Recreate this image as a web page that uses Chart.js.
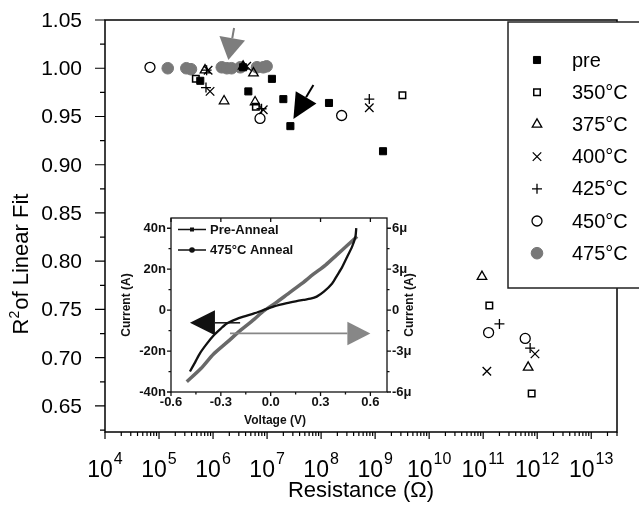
<!DOCTYPE html>
<html>
<head>
<meta charset="utf-8">
<script src="https://cdn.jsdelivr.net/npm/chart.js@4.4.0/dist/chart.umd.min.js"></script>
<style>
  html, body { margin: 0; padding: 0; background: #fff; }
  #wrap { position: relative; width: 639px; height: 508px; }
  #main { position: absolute; left: 0; top: 0; }
  #inset { position: absolute; left: 118px; top: 205px; }
</style>
</head>
<body>
<div id="wrap">
  <canvas id="main" width="639" height="508"></canvas>
  <canvas id="inset" width="300" height="226"></canvas>
</div>
<script>
// ---- main plot data: resistance (ohm) vs R^2 of linear fit ----
var seriesNames = ['pre', '350°C', '375°C', '400°C', '425°C', '450°C', '475°C'];

var preR   = [5.8e5, 3.6e6, 4.5e6, 1.23e7, 2.0e7, 2.7e7, 1.4e8, 1.4e9];
var preFit = [0.987, 1.001, 0.976, 0.989, 0.968, 0.940, 0.964, 0.914];

var r350   = [4.8e5, 6.2e6, 3.2e9, 1.3e11, 7.9e11];
var fit350 = [0.989, 0.960, 0.972, 0.754, 0.663];

var r375   = [7.1e5, 1.6e6, 3.6e6, 5.6e6, 6.0e6, 9.5e10, 6.8e11];
var fit375 = [0.998, 0.966, 1.002, 0.995, 0.965, 0.784, 0.690];

var r400   = [8.1e5, 8.8e5, 4.2e6, 8.5e6, 7.8e8, 1.17e11, 9.1e11];
var fit400 = [0.998, 0.976, 1.002, 0.957, 0.959, 0.686, 0.704];

var r425   = [7.4e5, 7.6e5, 7.9e6, 7.8e8, 2.0e11, 7.4e11];
var fit425 = [0.980, 0.998, 0.958, 0.968, 0.735, 0.710];

var r450   = [6.8e4, 7.4e6, 2.4e8, 1.26e11, 6.0e11];
var fit450 = [1.001, 0.948, 0.951, 0.726, 0.720];

var r475   = [1.45e5, 3.2e5, 3.9e5, 1.45e6, 1.8e6, 2.2e6, 3.2e6, 6.5e6, 8.5e6, 9.8e6];
var fit475 = [1.000, 1.000, 0.999, 1.001, 1.000, 1.000, 1.001, 1.001, 1.001, 1.002];

var xDecades = [4, 5, 6, 7, 8, 9, 10, 11, 12, 13];
var yTicks = [0.65, 0.70, 0.75, 0.80, 0.85, 0.90, 0.95, 1.00, 1.05];

// arrows in the main plot (data coords): [tailR, tailFit, tipR, tipFit]
var grayArrow  = [2.45e6, 1.0417, 1.92e6, 1.0086];
var blackArrow = [7.2e7, 0.9827, 3.07e7, 0.9475];

// ---- inset data: I-V curves ----
var vPre = [-0.486, -0.455, -0.425, -0.385, -0.345, -0.30, -0.264, -0.21, -0.164, -0.10, -0.044, 0.02, 0.097, 0.15, 0.197, 0.24, 0.277, 0.32, 0.37, 0.40, 0.43, 0.46, 0.49, 0.51, 0.515];
var iPre = [-30, -25.5, -21, -16.5, -12.5, -9, -6.5, -4.5, -3.2, -1.6, 0, 1.8, 3.4, 4.3, 5.0, 5.6, 6.6, 9.0, 13, 17, 21, 26, 31, 36, 40]; // nA

var v475 = [-0.505, -0.42, -0.345, -0.26, -0.184, -0.10, -0.044, 0.03, 0.097, 0.18, 0.257, 0.33, 0.398, 0.46, 0.52];
var i475 = [-5.25, -4.28, -3.23, -2.33, -1.5, -0.68, -0.08, 0.53, 1.13, 1.88, 2.63, 3.3, 4.05, 4.73, 5.4]; // uA

var insetXTicks = [-0.6, -0.3, 0, 0.3, 0.6];
var insetLeftTicks = [-40, -20, 0, 20, 40];
var insetRightTicks = [-6, -3, 0, 3, 6];

// inset arrows: [tailV, tailI(nA), tipV, tipI(nA)]
var insetBlackArrow = [-0.184, -6.2, -0.486, -6.2];
var insetGrayArrow  = [-0.245, -11.4, 0.6, -11.4];

var FONT = "'Liberation Sans', Arial, sans-serif";
var GRAY = 'rgb(120,120,120)';

function pts(xs, ys) {
  return xs.map(function(x, i) { return {x: x, y: ys[i]}; });
}

var seriesR   = [preR, r350, r375, r400, r425, r450, r475];
var seriesFit = [preFit, fit350, fit375, fit400, fit425, fit450, fit475];
var markerStyles = [
  {style: 'rect',     r: 5,   fill: '#000',  stroke: '#000', lw: 1},
  {style: 'rect',     r: 4.6, fill: 'rgba(0,0,0,0)', stroke: '#000', lw: 1.5},
  {style: 'triangle', r: 5.5, fill: 'rgba(0,0,0,0)', stroke: '#000', lw: 1.3},
  {style: 'crossRot', r: 6,   fill: 'rgba(0,0,0,0)', stroke: '#000', lw: 1.3},
  {style: 'cross',    r: 5,   fill: 'rgba(0,0,0,0)', stroke: '#000', lw: 1.3},
  {style: 'circle',   r: 5,   fill: 'rgba(0,0,0,0)', stroke: '#000', lw: 1.3},
  {style: 'circle',   r: 5.8, fill: GRAY,    stroke: GRAY,   lw: 1}
];

function drawMarker(ctx, st, x, y) {
  var r = st.r;
  ctx.save();
  ctx.fillStyle = st.fill; ctx.strokeStyle = st.stroke; ctx.lineWidth = st.lw;
  ctx.beginPath();
  if (st.style === 'rect') {
    var s = r * Math.SQRT1_2;
    ctx.rect(x - s, y - s, 2 * s, 2 * s);
  } else if (st.style === 'triangle') {
    ctx.moveTo(x, y - r);
    ctx.lineTo(x + 0.866 * r, y + 0.5 * r);
    ctx.lineTo(x - 0.866 * r, y + 0.5 * r);
    ctx.closePath();
  } else if (st.style === 'crossRot') {
    var c = r * Math.SQRT1_2;
    ctx.moveTo(x - c, y - c); ctx.lineTo(x + c, y + c);
    ctx.moveTo(x - c, y + c); ctx.lineTo(x + c, y - c);
  } else if (st.style === 'cross') {
    ctx.moveTo(x - r, y); ctx.lineTo(x + r, y);
    ctx.moveTo(x, y - r); ctx.lineTo(x, y + r);
  } else {
    ctx.arc(x, y, r, 0, Math.PI * 2);
  }
  if (st.style !== 'cross' && st.style !== 'crossRot') ctx.fill();
  ctx.stroke();
  ctx.restore();
}

function arrow(ctx, x0, y0, x1, y1, headLen, halfW, color, lw) {
  var dx = x1 - x0, dy = y1 - y0, L = Math.sqrt(dx * dx + dy * dy);
  var ux = dx / L, uy = dy / L;
  var bx = x1 - ux * headLen, by = y1 - uy * headLen;
  ctx.save();
  ctx.strokeStyle = color; ctx.fillStyle = color; ctx.lineWidth = lw;
  ctx.beginPath(); ctx.moveTo(x0, y0); ctx.lineTo(bx, by); ctx.stroke();
  ctx.beginPath();
  ctx.moveTo(x1, y1);
  ctx.lineTo(bx - uy * halfW, by + ux * halfW);
  ctx.lineTo(bx + uy * halfW, by - ux * halfW);
  ctx.closePath(); ctx.fill();
  ctx.restore();
}

var mainDecor = {
  id: 'mainDecor',
  afterDraw: function(chart) {
    var ctx = chart.ctx, a = chart.chartArea;
    var xs = chart.scales.x, ys = chart.scales.y;
    var i, x, y;
    ctx.save();
    ctx.strokeStyle = '#000';
    ctx.lineWidth = 1.5;
    ctx.strokeRect(a.left, a.top, a.right - a.left, a.bottom - a.top);

    // y ticks
    ctx.lineWidth = 1.2;
    ctx.beginPath();
    for (i = 0; i < yTicks.length; i++) {
      y = ys.getPixelForValue(yTicks[i]);
      ctx.moveTo(a.left - 10, y); ctx.lineTo(a.left, y);
      var mv = yTicks[i] - 0.025;
      if (mv >= ys.min) {
        var my = ys.getPixelForValue(mv);
        ctx.moveTo(a.left - 5, my); ctx.lineTo(a.left, my);
      }
    }
    // x ticks (log, with minors)
    for (i = 0; i < xDecades.length; i++) {
      var base = Math.pow(10, xDecades[i]);
      x = xs.getPixelForValue(base);
      ctx.moveTo(x, a.bottom); ctx.lineTo(x, a.bottom + 7);
      for (var m = 2; m <= 9; m++) {
        if (m * base > xs.max) break;
        var mx = xs.getPixelForValue(m * base);
        ctx.moveTo(mx, a.bottom); ctx.lineTo(mx, a.bottom + 4);
      }
    }
    ctx.stroke();

    // y labels
    ctx.fillStyle = '#000';
    ctx.font = '21px ' + FONT;
    ctx.textAlign = 'right';
    ctx.textBaseline = 'middle';
    yTicks.forEach(function(v) {
      ctx.fillText(v.toFixed(2), 82, ys.getPixelForValue(v) + 1);
    });

    // x labels 10^n
    ctx.textAlign = 'left';
    ctx.textBaseline = 'alphabetic';
    xDecades.forEach(function(d) {
      var px = xs.getPixelForValue(Math.pow(10, d));
      ctx.font = '23px ' + FONT;
      var w1 = ctx.measureText('10').width;
      ctx.font = '16px ' + FONT;
      var w2 = ctx.measureText(String(d)).width;
      var left = px - (w1 + w2 + 1) / 2;
      ctx.font = '23px ' + FONT;
      ctx.fillText('10', left, 477);
      ctx.font = '16px ' + FONT;
      ctx.fillText(String(d), left + w1 + 1, 464);
    });

    // x title
    ctx.font = '22px ' + FONT;
    ctx.textAlign = 'center';
    ctx.textBaseline = 'middle';
    ctx.fillText('Resistance (\u03A9)', (a.left + a.right) / 2, 491);

    // y title: R^2 of Linear Fit
    ctx.save();
    ctx.translate(22, 264);
    ctx.rotate(-Math.PI / 2);
    ctx.textAlign = 'left';
    ctx.textBaseline = 'middle';
    ctx.font = '22px ' + FONT;
    var wR = ctx.measureText('R').width;
    var wRest = ctx.measureText('of Linear Fit').width;
    ctx.font = '14px ' + FONT;
    var wS = ctx.measureText('2').width;
    var tot = wR + wS + 1 + wRest;
    var sx = -tot / 2;
    ctx.font = '22px ' + FONT;
    ctx.fillText('R', sx, 0);
    ctx.font = '14px ' + FONT;
    ctx.fillText('2', sx + wR, -7);
    ctx.font = '22px ' + FONT;
    ctx.fillText('of Linear Fit', sx + wR + wS + 1, 0);
    ctx.restore();

    // arrows
    arrow(ctx, xs.getPixelForValue(grayArrow[0]), ys.getPixelForValue(grayArrow[1]),
          xs.getPixelForValue(grayArrow[2]), ys.getPixelForValue(grayArrow[3]), 22, 13, 'rgb(125,125,125)', 2);
    arrow(ctx, xs.getPixelForValue(blackArrow[0]), ys.getPixelForValue(blackArrow[1]),
          xs.getPixelForValue(blackArrow[2]), ys.getPixelForValue(blackArrow[3]), 25, 12, '#000', 2);

    // legend box
    ctx.fillStyle = '#fff';
    ctx.fillRect(508, 22, 140, 266);
    ctx.strokeStyle = '#222';
    ctx.lineWidth = 1.5;
    ctx.strokeRect(508, 22, 140, 266);
    ctx.font = '20px ' + FONT;
    ctx.textAlign = 'left';
    ctx.textBaseline = 'middle';
    chart.data.datasets.forEach(function(ds, k) {
      var ly = 60 + k * 32.2;
      drawMarker(ctx, markerStyles[k], 537, ly);
      ctx.fillStyle = '#000';
      ctx.fillText(ds.label, 572, ly + 1);
    });
    ctx.restore();
  }
};

new Chart(document.getElementById('main'), {
  type: 'scatter',
  data: {
    datasets: seriesNames.map(function(name, k) {
      var st = markerStyles[k];
      return {
        label: name,
        data: pts(seriesR[k], seriesFit[k]),
        pointStyle: st.style,
        pointRadius: st.r,
        pointHoverRadius: st.r,
        pointBackgroundColor: st.fill,
        pointBorderColor: st.stroke,
        pointBorderWidth: st.lw
      };
    })
  },
  options: {
    responsive: false,
    animation: false,
    devicePixelRatio: 1,
    layout: { autoPadding: false, padding: { top: 20, right: 22, left: 0, bottom: 0 } },
    plugins: { legend: { display: false }, tooltip: { enabled: false } },
    scales: {
      x: {
        type: 'logarithmic', min: 1e4, max: 3e13,
        ticks: { display: false }, grid: { display: false }, border: { display: false },
        afterFit: function(s) { s.height = 76; }
      },
      y: {
        type: 'linear', min: 0.623, max: 1.05,
        ticks: { display: false }, grid: { display: false }, border: { display: false },
        afterFit: function(s) { s.width = 105; }
      }
    }
  },
  plugins: [mainDecor]
});

// ---- inset ----
var insetDecor = {
  id: 'insetDecor',
  afterDraw: function(chart) {
    var ctx = chart.ctx, a = chart.chartArea;
    var xs = chart.scales.x, yl = chart.scales.y, yr = chart.scales.y2;
    var i, p;
    ctx.save();
    ctx.strokeStyle = '#111';
    ctx.lineWidth = 1.3;
    ctx.strokeRect(a.left, a.top, a.right - a.left, a.bottom - a.top);
    ctx.beginPath();
    for (i = 0; i < insetXTicks.length; i++) {
      p = xs.getPixelForValue(insetXTicks[i]);
      ctx.moveTo(p, a.bottom); ctx.lineTo(p, a.bottom + 4);
      ctx.moveTo(p, a.top); ctx.lineTo(p, a.top + 4);
      if (i < insetXTicks.length - 1) {
        var mp = xs.getPixelForValue((insetXTicks[i] + insetXTicks[i + 1]) / 2);
        ctx.moveTo(mp, a.bottom); ctx.lineTo(mp, a.bottom + 2.5);
      }
    }
    for (i = 0; i < insetLeftTicks.length; i++) {
      p = yl.getPixelForValue(insetLeftTicks[i]);
      ctx.moveTo(a.left - 4, p); ctx.lineTo(a.left, p);
      if (i < insetLeftTicks.length - 1) {
        var ml = yl.getPixelForValue((insetLeftTicks[i] + insetLeftTicks[i + 1]) / 2);
        ctx.moveTo(a.left - 2.5, ml); ctx.lineTo(a.left, ml);
      }
    }
    for (i = 0; i < insetRightTicks.length; i++) {
      p = yr.getPixelForValue(insetRightTicks[i]);
      ctx.moveTo(a.right, p); ctx.lineTo(a.right + 4, p);
      if (i < insetRightTicks.length - 1) {
        var mr = yr.getPixelForValue((insetRightTicks[i] + insetRightTicks[i + 1]) / 2);
        ctx.moveTo(a.right, mr); ctx.lineTo(a.right + 2.5, mr);
      }
    }
    ctx.stroke();

    ctx.fillStyle = '#111';
    ctx.font = 'bold 13px ' + FONT;
    ctx.textAlign = 'center';
    ctx.textBaseline = 'top';
    insetXTicks.forEach(function(v) {
      ctx.fillText(v.toFixed(1), xs.getPixelForValue(v), a.bottom + 4);
    });
    ctx.textAlign = 'right';
    ctx.textBaseline = 'middle';
    insetLeftTicks.forEach(function(v) {
      ctx.fillText(v === 0 ? '0' : v + 'n', a.left - 5, yl.getPixelForValue(v));
    });
    ctx.textAlign = 'left';
    insetRightTicks.forEach(function(v) {
      ctx.fillText(v === 0 ? '0' : v + '\u03BC', a.right + 5, yr.getPixelForValue(v));
    });

    // titles
    ctx.font = 'bold 12px ' + FONT;
    ctx.textAlign = 'center';
    ctx.fillText('Voltage (V)', (a.left + a.right) / 2 - 4, 216);
    ctx.save();
    ctx.translate(9, (a.top + a.bottom) / 2);
    ctx.rotate(-Math.PI / 2);
    ctx.fillText('Current (A)', 0, 0);
    ctx.restore();
    ctx.save();
    ctx.translate(292, (a.top + a.bottom) / 2);
    ctx.rotate(-Math.PI / 2);
    ctx.fillText('Current (A)', 0, 0);
    ctx.restore();

    // legend
    ctx.strokeStyle = '#111';
    ctx.lineWidth = 1.6;
    ctx.beginPath();
    ctx.moveTo(60, 24.5); ctx.lineTo(88, 24.5);
    ctx.moveTo(60, 45); ctx.lineTo(88, 45);
    ctx.stroke();
    ctx.fillRect(72, 22.5, 4, 4);
    ctx.beginPath(); ctx.arc(74, 45, 2.8, 0, Math.PI * 2); ctx.fill();
    ctx.font = 'bold 13px ' + FONT;
    ctx.textAlign = 'left';
    chart.data.datasets.forEach(function(ds, k) {
      ctx.fillText(ds.label, 92, k === 0 ? 25 : 45.5);
    });

    // arrows
    arrow(ctx, xs.getPixelForValue(insetBlackArrow[0]), yl.getPixelForValue(insetBlackArrow[1]),
          xs.getPixelForValue(insetBlackArrow[2]), yl.getPixelForValue(insetBlackArrow[3]), 25, 12.5, '#111', 1.5);
    arrow(ctx, xs.getPixelForValue(insetGrayArrow[0]), yl.getPixelForValue(insetGrayArrow[1]),
          xs.getPixelForValue(insetGrayArrow[2]), yl.getPixelForValue(insetGrayArrow[3]), 23, 11.7, 'rgb(135,135,135)', 1.8);
    ctx.restore();
  }
};

new Chart(document.getElementById('inset'), {
  type: 'line',
  data: {
    datasets: [
      { label: 'Pre-Anneal', data: pts(vPre, iPre), yAxisID: 'y',
        borderColor: '#111', borderWidth: 2.3, pointRadius: 0, tension: 0.25, fill: false },
      { label: '475°C Anneal', data: pts(v475, i475), yAxisID: 'y2',
        borderColor: 'rgb(105,105,105)', borderWidth: 3.5, pointRadius: 0, tension: 0.25, fill: false }
    ]
  },
  options: {
    responsive: false,
    animation: false,
    devicePixelRatio: 1,
    layout: { autoPadding: false, padding: { top: 13, left: 0, right: 0, bottom: 0 } },
    plugins: { legend: { display: false }, tooltip: { enabled: false } },
    scales: {
      x: { type: 'linear', min: -0.6, max: 0.7,
        ticks: { display: false }, grid: { display: false }, border: { display: false },
        afterFit: function(s) { s.height = 39; } },
      y: { position: 'left', min: -40, max: 45,
        ticks: { display: false }, grid: { display: false }, border: { display: false },
        afterFit: function(s) { s.width = 53; } },
      y2: { position: 'right', min: -6, max: 6.75,
        ticks: { display: false }, grid: { display: false }, border: { display: false },
        afterFit: function(s) { s.width = 31; } }
    }
  },
  plugins: [insetDecor]
});
</script>
</body>
</html>
